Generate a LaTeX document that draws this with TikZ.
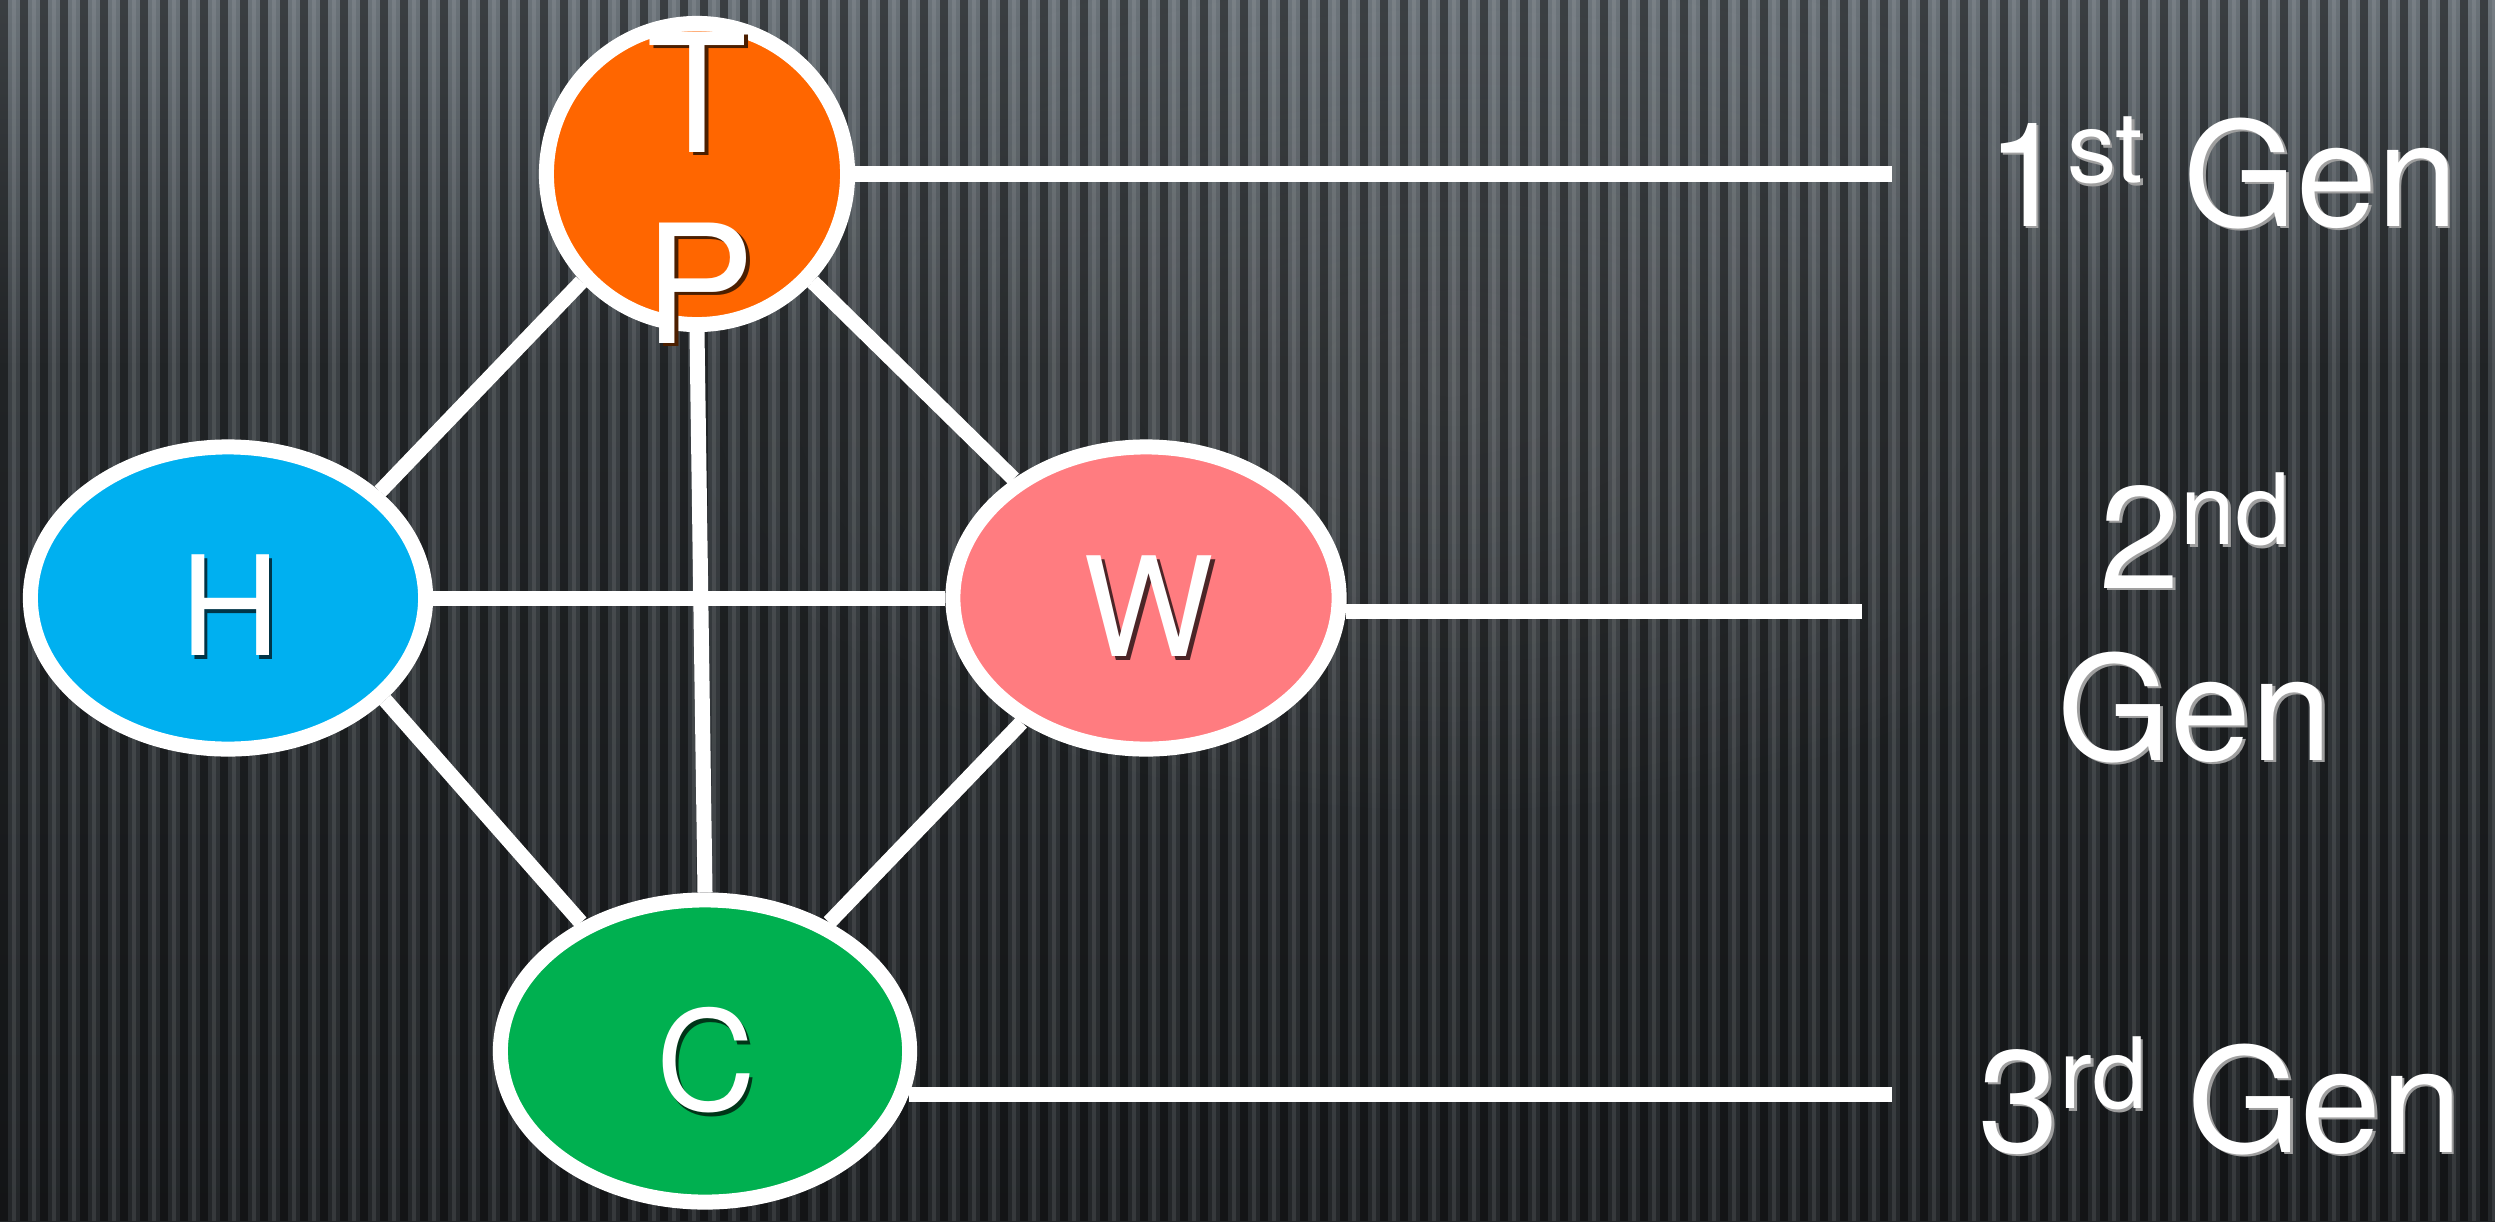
\documentclass[tikz,border=0pt]{standalone}
\usepackage{fontspec}
\setmainfont{TeX Gyre Heros}
\usetikzlibrary{shapes.geometric,fadings}
\definecolor{tporange}{HTML}{FF6600}
\definecolor{hblue}{HTML}{00B0F0}
\definecolor{wpink}{HTML}{FF7C80}
\definecolor{cgreen}{HTML}{00B050}
\definecolor{bgtop}{HTML}{7A838A}
\definecolor{bgmid}{HTML}{3C4145}
\definecolor{bgbot}{HTML}{121416}
\pgfdeclareverticalshading{bgshade}{100bp}{color(0bp)=(bgbot); color(35bp)=(bgmid!55!bgbot); color(60bp)=(bgmid); color(80bp)=(bgtop); color(100bp)=(bgtop)}
\tikzfading[name=softblob, inner color=transparent!88, outer color=transparent!100]
\pgfdeclarelayer{bgl}
\pgfdeclarelayer{back}
\pgfsetlayers{bgl,back,main}
\newcommand{\shd}[3][0.035cm]{\makebox[0pt][l]{\hspace*{#1}\raisebox{-#1}{\color{#2}#3}}#3}
\newcommand{\sups}[1]{\raisebox{0.43cm}{\fontsize{28pt}{30pt}\selectfont #1}}
\tikzset{
  gnode/.style={draw=white, line width=0.15cm, inner sep=0pt, outer sep=0.075cm},
  conn/.style={draw=white, line width=0.15cm},
  ltr/.style={text=white, font=\fontsize{39.3pt}{42pt}\selectfont, inner sep=0pt, outer sep=0pt},
  bigltr/.style={text=white, font=\fontsize{47pt}{50pt}\selectfont, inner sep=0pt, outer sep=0pt},
  genlab/.style={text=white, font=\fontsize{41.3pt}{44pt}\selectfont, inner sep=0pt, outer sep=0pt}
}
\begin{document}
\begin{tikzpicture}[x=0.01cm, y=-0.01cm]
\useasboundingbox (0,0) rectangle (2495,1221);
% nodes
\node[gnode, circle, fill=tporange, minimum size=3.01cm] (tp) at (697,174) {};
\node[gnode, ellipse, fill=hblue, minimum width=3.95cm, minimum height=3.02cm] (h) at (228,598) {};
\node[gnode, ellipse, fill=wpink, minimum width=3.86cm, minimum height=3.02cm] (w) at (1146,598) {};
\node[gnode, ellipse, fill=cgreen, minimum width=4.09cm, minimum height=3.02cm] (c) at (705,1051) {};
% letters
\node[bigltr, anchor=base] (tlab) at (697,152) {\shd{black!70!tporange}{T}};
\node[bigltr, anchor=base] (plab) at (700,343) {\shd{black!70!tporange}{P}};
\node[ltr] (hlab) at (230,607) {\shd{black!70!hblue}{H}};
\node[ltr] (wlab) at (1149,608) {\shd{black!70!wpink}{W}};
\node[ltr] (clab) at (706,1062) {\shd{black!70!cgreen}{C}};
% generation labels
\node[genlab, anchor=base east] (g1) at (2458,226) {\shd[0.025cm]{gray!75}{1\sups{st} Gen}};
\node[genlab, anchor=base] (g2a) at (2195,588) {\shd[0.025cm]{gray!75}{2\sups{nd}}};
\node[genlab, anchor=base] (g2b) at (2195,760) {\shd[0.025cm]{gray!75}{Gen}};
\node[genlab, anchor=base east] (g3) at (2462,1152) {\shd[0.025cm]{gray!75}{3\sups{rd} Gen}};
% free ends of the generation lines
\coordinate (e1) at (1892,175);
\coordinate (e2) at (1862,612);
\coordinate (e3) at (1892,1097);
\begin{pgfonlayer}{bgl}
  \shade[shading=bgshade] (0,0) rectangle (2495,1221);
  \fill[white, path fading=softblob] (1450,380) ellipse [x radius=800, y radius=450];
  \foreach \x in {0,20,...,2480} {
    \fill[black, opacity=0.45] (\x,0) rectangle ++(8,1221);
    \fill[white, opacity=0.09] (\x+12,0) rectangle ++(4,1221);
  }
\end{pgfonlayer}
\begin{pgfonlayer}{back}
  \draw[conn] (tp.223) -- (h.35);
  \draw[conn] (tp.317) -- (w.138);
  \draw[conn] (h.east) -- (w.west);
  \draw[conn] (h.327) -- (c.134);
  \draw[conn] (w.225) -- (c.46);
  \draw[conn] (tp.270) -- (c.90);
  \draw[conn] (tp.0) -- (tp.0 -| e1);
  \draw[conn] (w.-4) -- (w.-4 -| e2);
  \draw[conn] (c.-12.6) -- (c.-12.6 -| e3);
\end{pgfonlayer}
\end{tikzpicture}
\end{document}
